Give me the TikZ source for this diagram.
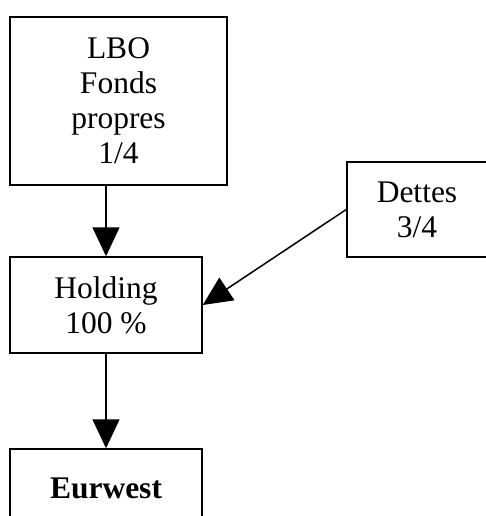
\documentclass[tikz,border=0pt]{standalone}
\usepackage{fontspec}
\setmainfont{Liberation Serif}
\usetikzlibrary{arrows.meta}

\begin{document}
\begin{tikzpicture}[x = 1pt, y = -1pt,
  box/.style = {draw, line width = 1.5pt, align = center, inner sep = 0pt,
    font = \fontsize{31.5}{35}\selectfont},
  flow/.style = {line width = 1.5pt, -{Triangle[width = 27pt, length = 29pt]}}]
\useasboundingbox (0,0) rectangle (486,516);
\node[box, minimum width = 217pt, minimum height = 168pt] (lbo) at (118.5, 101) {LBO\\ Fonds\\ propres\\ 1/4};
\node[box, minimum width = 140pt, minimum height = 95pt] (dettes) at (417, 209.5) {Dettes\\ 3/4};
\node[box, minimum width = 192pt, minimum height = 96pt] (holding) at (106, 305) {\raisebox{-3pt}{Holding}\\ \raisebox{-3pt}{100 \%}};
\node[box, minimum width = 192pt, minimum height = 78pt] (eurwest) at (106, 488) {\textbf{Eurwest}};
\draw[flow] (lbo.south -| holding.north) -- (holding.north);
\draw[flow] (dettes.west) -- (holding.east);
\draw[flow] (holding.south) -- (eurwest.north);
\end{tikzpicture}
\end{document}
